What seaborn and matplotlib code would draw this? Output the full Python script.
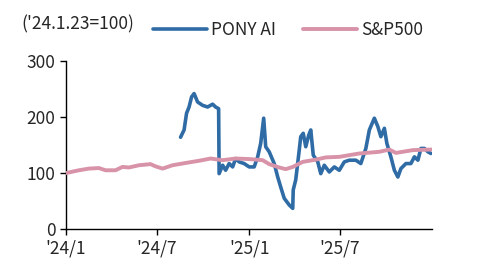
"""PONY AI vs S&P500 rebased index chart ('24.1.23=100)."""
import matplotlib.dates as mdates
import matplotlib.pyplot as plt
import pandas as pd
import seaborn as sns

START = pd.Timestamp("2024-01-01")

# days since 2024-01-01
PONY_DAYS = [229, 236, 241, 246, 251, 256, 263, 273, 283, 293, 299, 305, 306,
             313, 319, 326, 333, 339, 346, 356, 366, 376, 383, 389, 395, 399,
             406, 416, 423, 429, 436, 446, 453, 454, 459, 466, 469, 474, 479,
             485, 489, 494, 503, 509, 516, 526, 536, 546, 556, 566, 579, 589,
             599, 606, 616, 623, 629, 636, 641, 649, 656, 663, 669, 679, 689,
             696, 703, 709, 716, 723, 729]
PONY_VALS = [164, 177, 207, 218, 236, 242, 227, 221, 218, 223, 218, 215, 99,
             114, 105, 117, 111, 126, 120, 117, 111, 111, 129, 153, 198, 147,
             138, 117, 93, 75, 55, 43, 37, 70, 88, 141, 165, 171, 147,
             168, 177, 132, 120, 99, 114, 102, 111, 105, 120, 123, 123, 117,
             144, 177, 198, 183, 165, 180, 153, 129, 105, 93, 108, 117, 117,
             129, 123, 144, 144, 138, 135]

SPX_DAYS = [0, 26, 46, 66, 79, 99, 113, 126, 146, 169, 179, 193, 213, 239,
            266, 289, 313, 339, 366, 393, 406, 426, 439, 453, 473, 499, 519,
            546, 586, 626, 646, 659, 693, 730]
SPX_VALS = [100, 105, 108, 109, 105, 105, 111, 110, 114, 116, 112, 108, 114,
            118, 122, 126, 123, 126, 125, 123, 116, 110, 107, 111, 120, 124,
            128, 129, 135, 138, 142, 136, 141, 142]

TICK_DATES = ["2024-01-01", "2024-07-01", "2025-01-01", "2025-07-01"]
TICK_LABELS = ["'24/1", "'24/7", "'25/1", "'25/7"]

BLUE = "#2f6ca6"
PINK = "#d893a9"


def to_frame(days, vals):
    return pd.DataFrame({"date": START + pd.to_timedelta(days, unit="D"),
                         "value": vals})


def main() -> None:
    sns.set_style("ticks")
    plt.rcParams["font.family"] = ["Noto Sans CJK KR", "DejaVu Sans"]

    fig = plt.figure(figsize=(4.81, 2.6), dpi=100)
    ax = fig.add_axes([0.137, 0.119, 0.761, 0.646])

    sns.lineplot(data=to_frame(PONY_DAYS, PONY_VALS), x="date", y="value",
                 ax=ax, color=BLUE, linewidth=2.6, label="PONY AI", zorder=2)
    sns.lineplot(data=to_frame(SPX_DAYS, SPX_VALS), x="date", y="value",
                 ax=ax, color=PINK, linewidth=2.8, label="S&P500", zorder=3)

    ax.set_ylim(0, 300)
    ax.set_yticks([0, 100, 200, 300])
    ax.set_xlim(START, pd.Timestamp("2026-01-01"))
    ax.set_xticks([mdates.date2num(pd.Timestamp(d)) for d in TICK_DATES])
    ax.set_xticklabels(TICK_LABELS)
    ax.tick_params(labelsize=12.5, length=4, width=1, color="black")
    ax.set_xlabel("")
    ax.set_ylabel("")
    for side in ("top", "right"):
        ax.spines[side].set_visible(False)
    for side in ("left", "bottom"):
        ax.spines[side].set_color("black")
        ax.spines[side].set_linewidth(1)

    ax.legend(loc="center left", bbox_to_anchor=(0.22, 1.185), ncol=2,
              frameon=False, fontsize=12.5, handlelength=3.1, handletextpad=0.2,
              columnspacing=1.6, borderaxespad=0)
    fig.text(0.045, 0.905, "('24.1.23=100)", fontsize=12.5, va="center")

    fig.savefig("out.png", dpi=100)
    plt.close(fig)


if __name__ == "__main__":
    main()
